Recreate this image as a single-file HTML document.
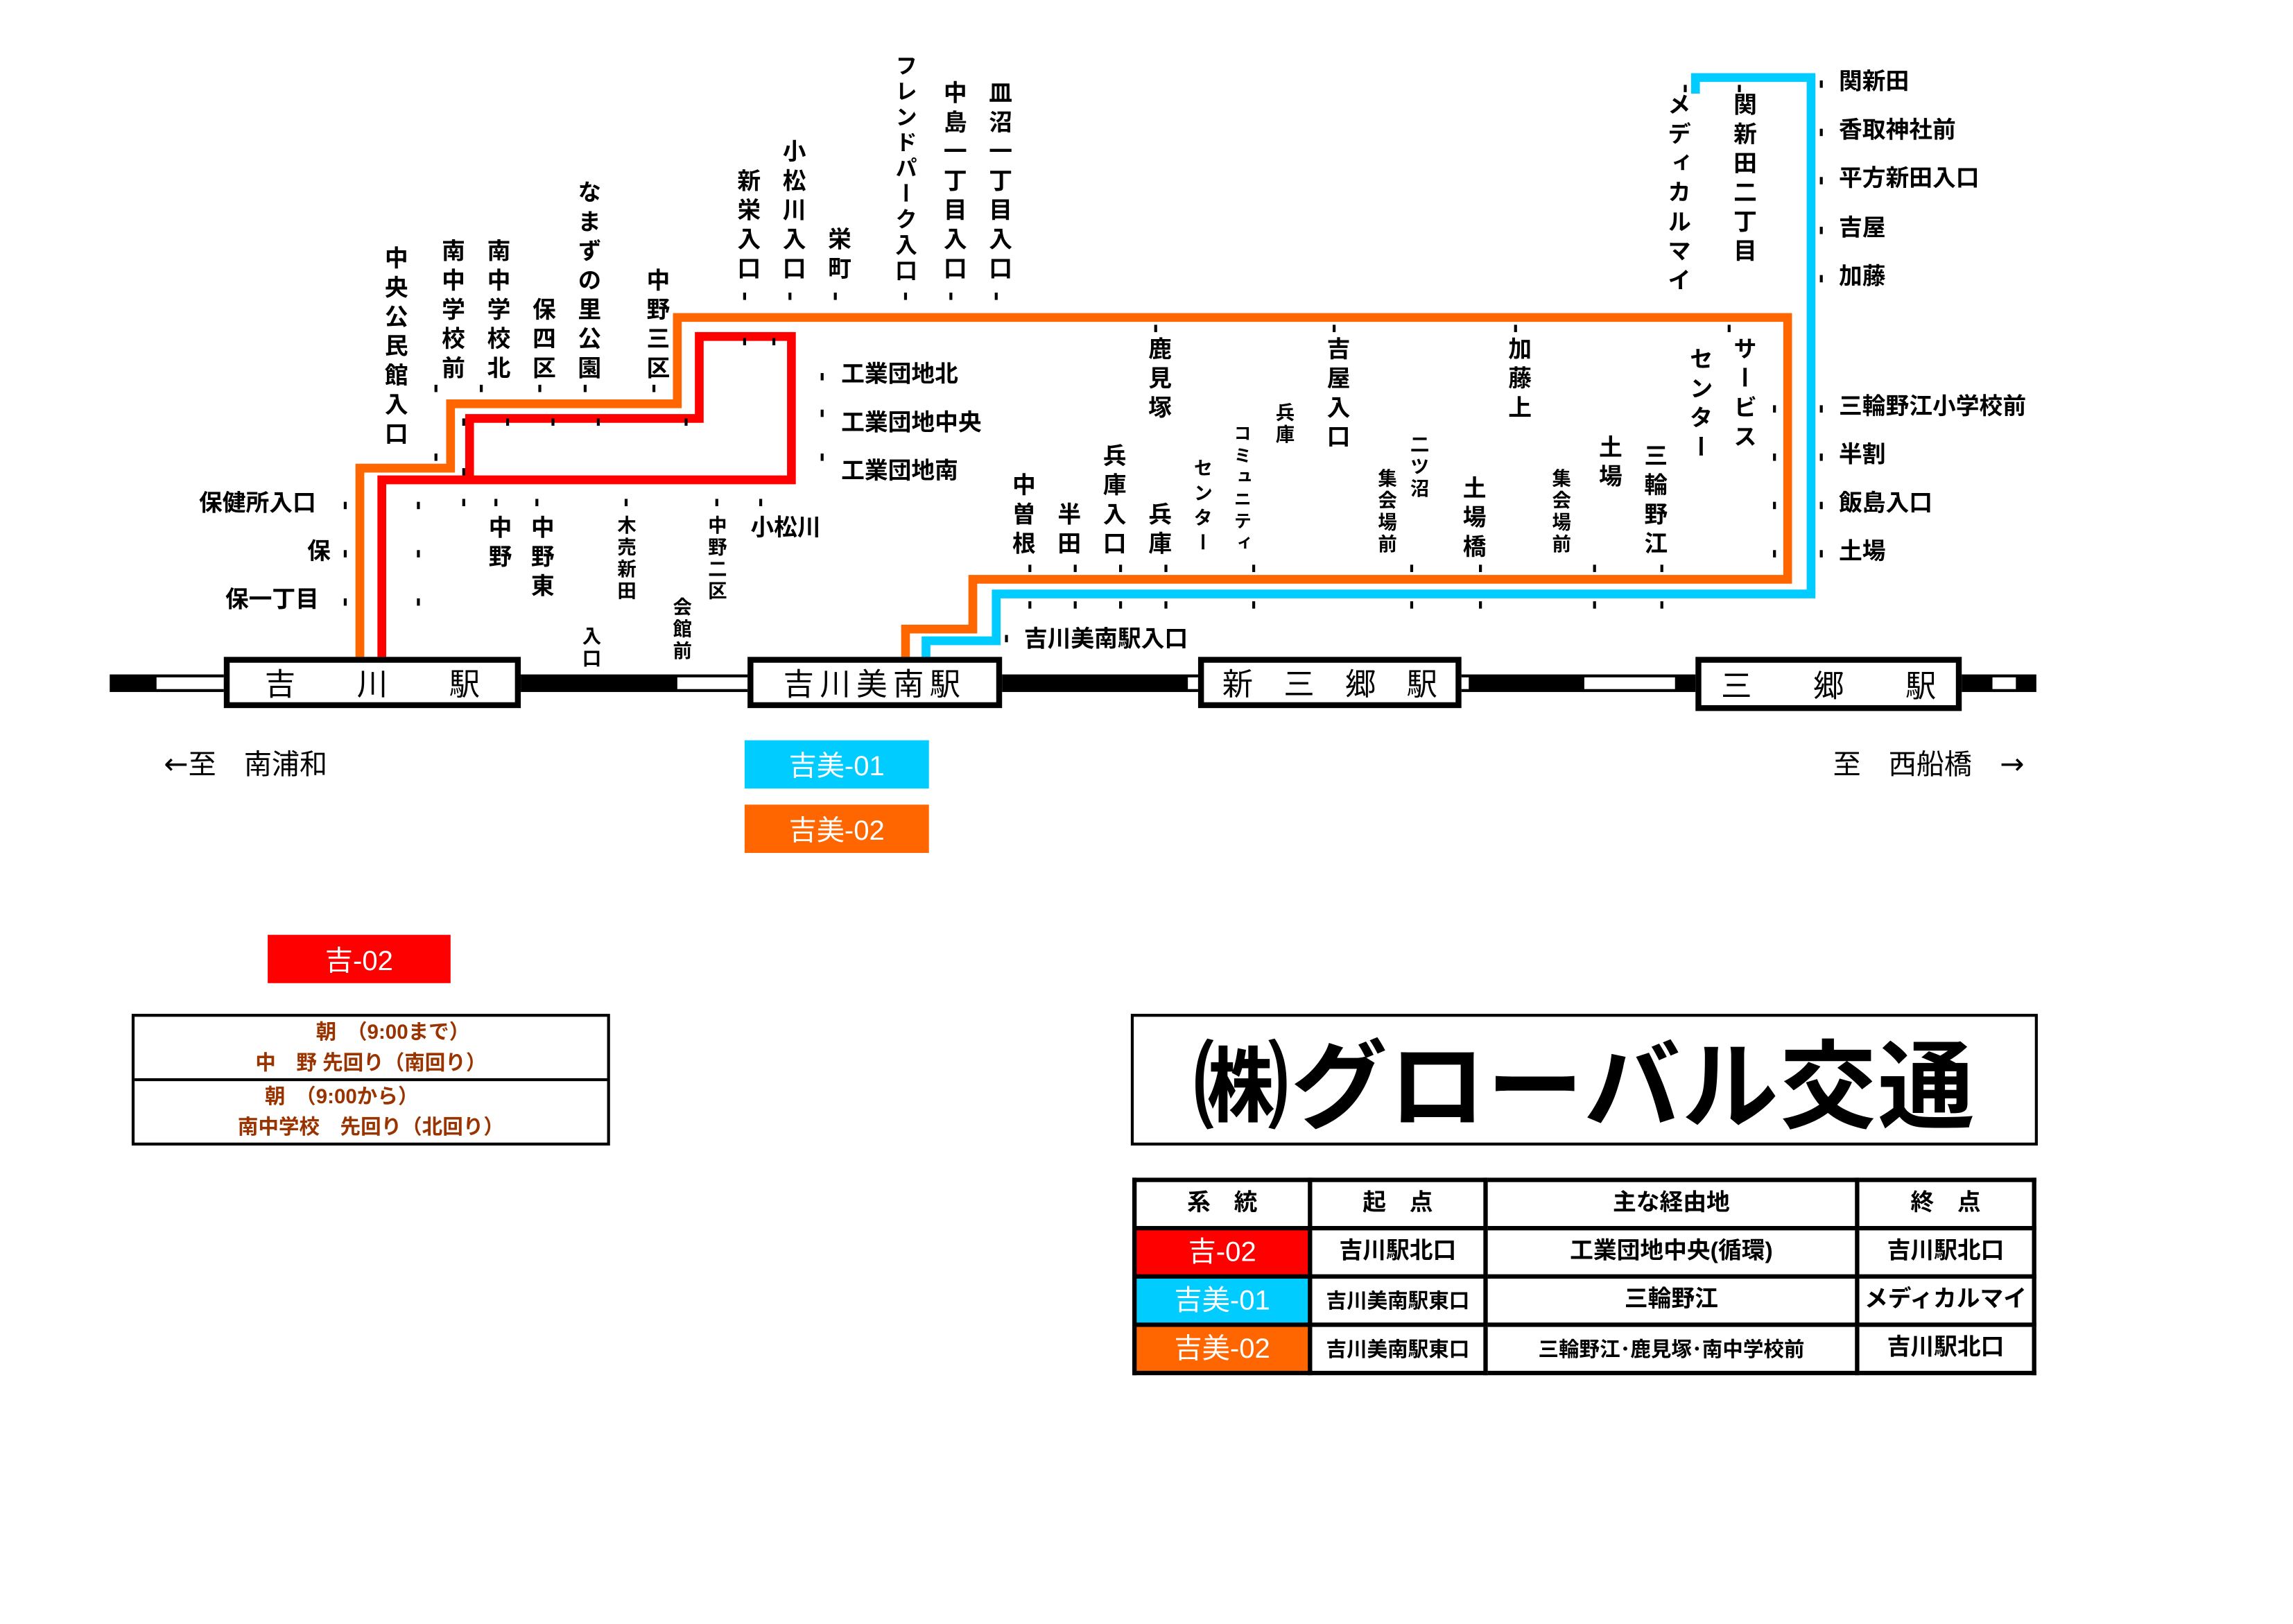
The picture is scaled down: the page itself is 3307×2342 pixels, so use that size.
<!DOCTYPE html>
<html><head><meta charset="utf-8">
<style>
html,body{margin:0;padding:0;background:#fff;}
body{width:3307px;height:2338px;overflow:hidden;position:relative;}
#s{position:absolute;left:0;top:0;width:1570px;height:1110px;transform:scale(2.1098);transform-origin:0 0;font-family:"Liberation Sans","Noto Sans CJK JP",sans-serif;font-weight:bold;color:#000;}
.a{position:absolute;white-space:nowrap;line-height:1;}
.v{position:absolute;writing-mode:vertical-rl;font-size:16px;letter-spacing:4px;line-height:1;white-space:nowrap;font-weight:bold;}
.sm{font-size:13px;letter-spacing:2px;}
.h{position:absolute;font-size:16px;line-height:1;white-space:nowrap;}
.st{position:absolute;border:4px solid #000;background:#fff;box-sizing:border-box;font-size:21px;font-weight:normal;display:flex;align-items:center;justify-content:center;}
.lg{position:absolute;color:#fff;font-size:19px;font-weight:normal;display:flex;align-items:center;justify-content:center;}
table{border-collapse:collapse;position:absolute;left:774px;top:805px;width:618px;height:132px;table-layout:fixed;}
td{border:3px solid #000;text-align:center;font-size:16px;padding:0;height:30px;line-height:1;}
.ar{font-family:"DejaVu Sans",sans-serif;font-size:20px;}
</style></head><body><div id="s">
<svg width="1570" height="1110" style="position:absolute;left:0;top:0">
 <rect x="75" y="461" width="1317" height="12" fill="#000"/>
 <rect x="107" y="463" width="46" height="8" fill="#fff"/>
 <rect x="463" y="463" width="48" height="8" fill="#fff"/>
 <rect x="1083" y="463" width="62" height="8" fill="#fff"/>
 <rect x="1362" y="463" width="16" height="8" fill="#fff"/>
 <rect x="998" y="463" width="6" height="8" fill="#fff"/>
 <rect x="812" y="463" width="7" height="8" fill="#fff"/>
 <path d="M246 452 V320 H308 V276 H463 V217 H1222 V396 H665 V430 H619 V452" fill="none" stroke="#ff6600" stroke-width="6"/>
 <path d="M261 452 V328 H541 V230 H478 V286 H321 V328" fill="none" stroke="#ff0000" stroke-width="6"/>
 <path d="M633 452 V438 H681 V406 H1238 V53 H1159 V64" fill="none" stroke="#00ccff" stroke-width="6"/>
 <g fill="#000">
 <rect x="508" y="200" width="2" height="5"/><rect x="539" y="200" width="2" height="5"/><rect x="570" y="200" width="2" height="5"/><rect x="618" y="200" width="2" height="5"/><rect x="649" y="200" width="2" height="5"/><rect x="680" y="200" width="2" height="5"/>
 <rect x="297" y="263" width="2" height="5"/><rect x="328" y="263" width="2" height="5"/><rect x="368" y="263" width="2" height="5"/><rect x="399" y="263" width="2" height="5"/><rect x="446" y="263" width="2" height="5"/>
 <rect x="316" y="286" width="2" height="5"/><rect x="346" y="286" width="2" height="5"/><rect x="377" y="286" width="2" height="5"/><rect x="408" y="286" width="2" height="5"/><rect x="468" y="286" width="2" height="5"/>
 <rect x="508" y="231" width="2" height="5"/><rect x="528" y="231" width="2" height="5"/>
 <rect x="297" y="310" width="2" height="5"/><rect x="316" y="320" width="2" height="5"/>
 <rect x="235" y="343" width="2" height="5"/><rect x="235" y="376" width="2" height="5"/><rect x="235" y="409" width="2" height="5"/>
 <rect x="285" y="343" width="2" height="5"/><rect x="285" y="376" width="2" height="5"/><rect x="285" y="409" width="2" height="5"/>
 <rect x="316" y="341" width="2" height="5"/><rect x="338" y="341" width="2" height="5"/><rect x="366" y="341" width="2" height="5"/><rect x="427" y="341" width="2" height="5"/><rect x="489" y="341" width="2" height="5"/><rect x="519" y="341" width="2" height="5"/>
 <rect x="561" y="255" width="2" height="5"/><rect x="561" y="280" width="2" height="5"/><rect x="561" y="310" width="2" height="5"/>
 <g id="d1"><rect x="703" y="386" width="2" height="5"/><rect x="734" y="386" width="2" height="5"/><rect x="765" y="386" width="2" height="5"/><rect x="796" y="386" width="2" height="5"/><rect x="856" y="386" width="2" height="5"/><rect x="964" y="386" width="2" height="5"/><rect x="1011" y="386" width="2" height="5"/><rect x="1089" y="386" width="2" height="5"/><rect x="1135" y="386" width="2" height="5"/></g>
 <use href="#d1" y="25"/>
 <rect x="789" y="222" width="2" height="5"/><rect x="911" y="222" width="2" height="5"/><rect x="1035" y="222" width="2" height="5"/><rect x="1181" y="222" width="2" height="5"/>
 <rect x="1212" y="277" width="2" height="5"/><rect x="1212" y="310" width="2" height="5"/><rect x="1212" y="343" width="2" height="5"/><rect x="1212" y="376" width="2" height="5"/>
 <rect x="1244" y="55" width="2" height="5"/><rect x="1244" y="88" width="2" height="5"/><rect x="1244" y="121" width="2" height="5"/><rect x="1244" y="155" width="2" height="5"/><rect x="1244" y="188" width="2" height="5"/>
 <rect x="1244" y="277" width="2" height="5"/><rect x="1244" y="310" width="2" height="5"/><rect x="1244" y="343" width="2" height="5"/><rect x="1244" y="376" width="2" height="5"/>
 <rect x="1151" y="58" width="2" height="5"/><rect x="1188" y="58" width="2" height="5"/>
 <rect x="687" y="434" width="2" height="5"/>
 </g>
</svg>

<div class="st" style="left:153px;top:449px;width:203px;height:35px">吉　　川　　駅</div>
<div class="st" style="left:511px;top:449px;width:174px;height:35px;letter-spacing:4px">吉川美南駅</div>
<div class="st" style="left:819px;top:449px;width:180px;height:35px">新　三　郷　駅</div>
<div class="st" style="left:1159px;top:449px;width:182px;height:37px">三　　郷　　駅</div>

<div class="v" style="left:260px;top:168px">中央公民館入口</div>
<div class="v" style="left:299px;top:163px">南中学校前</div>
<div class="v" style="left:330px;top:163px">南中学校北</div>
<div class="v" style="left:361px;top:203px">保四区</div>
<div class="v" style="left:392px;top:123px">なまずの里公園</div>
<div class="v" style="left:439px;top:183px">中野三区</div>
<div class="v" style="left:501px;top:115px">新栄入口</div>
<div class="v" style="left:532px;top:95px">小松川入口</div>
<div class="v" style="left:563px;top:155px">栄町</div>
<div class="v" style="left:611px;top:37px;font-size:15px;letter-spacing:2.5px">フレンドパーク入口</div>
<div class="v" style="left:642px;top:55px">中島一丁目入口</div>
<div class="v" style="left:673px;top:55px">皿沼一丁目入口</div>

<div class="v" style="left:331px;top:352px">中野</div>
<div class="v" style="left:360px;top:352px">中野東</div>
<div class="v sm" style="left:421px;top:352px">木売新田</div>
<div class="v sm" style="left:397px;top:428px">入口</div>
<div class="v sm" style="left:459px;top:408px">会館前</div>
<div class="v sm" style="left:483px;top:352px">中野二区</div>
<div class="h" style="left:513px;top:354px">小松川</div>
<div class="h" style="left:136px;top:337px">保健所入口</div>
<div class="h" style="left:210px;top:370px">保</div>
<div class="h" style="left:154px;top:403px">保一丁目</div>
<div class="h" style="left:575px;top:249px">工業団地北</div>
<div class="h" style="left:575px;top:282px">工業団地中央</div>
<div class="h" style="left:575px;top:315px">工業団地南</div>

<div class="v" style="left:689px;top:323px">中曽根</div>
<div class="v" style="left:720px;top:343px">半田</div>
<div class="v" style="left:751px;top:303px">兵庫入口</div>
<div class="v" style="left:782px;top:343px">兵庫</div>
<div class="v" style="left:782px;top:230px">鹿見塚</div>
<div class="v sm" style="left:815px;top:313px;letter-spacing:4px">センター</div>
<div class="v sm" style="left:843px;top:290px;font-size:12px;letter-spacing:3px">コミュニティ</div>
<div class="v sm" style="left:871px;top:275px">兵庫</div>
<div class="v" style="left:904px;top:230px">吉屋入口</div>
<div class="v sm" style="left:941px;top:320px">集会場前</div>
<div class="v sm" style="left:963px;top:297px">二ツ沼</div>
<div class="v" style="left:997px;top:325px">土場橋</div>
<div class="v" style="left:1028px;top:230px">加藤上</div>
<div class="v sm" style="left:1060px;top:320px">集会場前</div>
<div class="v" style="left:1090px;top:297px">土場</div>
<div class="v" style="left:1121px;top:303px">三輪野江</div>
<div class="v" style="left:1152px;top:237px">センター</div>
<div class="v" style="left:1182px;top:230px">サービス</div>
<div class="v" style="left:1137px;top:63px">メディカルマイ</div>
<div class="v" style="left:1182px;top:63px">関新田二丁目</div>

<div class="h" style="left:1257px;top:49px">関新田</div>
<div class="h" style="left:1257px;top:82px">香取神社前</div>
<div class="h" style="left:1257px;top:115px">平方新田入口</div>
<div class="h" style="left:1257px;top:149px">吉屋</div>
<div class="h" style="left:1257px;top:182px">加藤</div>
<div class="h" style="left:1257px;top:271px">三輪野江小学校前</div>
<div class="h" style="left:1257px;top:304px">半割</div>
<div class="h" style="left:1257px;top:337px">飯島入口</div>
<div class="h" style="left:1257px;top:370px">土場</div>
<div class="h" style="left:700px;top:430px">吉川美南駅入口</div>

<div class="a" style="left:112px;top:512px;font-size:19px;font-weight:normal"><span class="ar">←</span>至　南浦和</div>
<div class="a" style="left:1253px;top:512px;font-size:19px;font-weight:normal">至　西船橋　<span class="ar">→</span></div>

<div class="lg" style="left:509px;top:506px;width:126px;height:33px;background:#00ccff">吉美-01</div>
<div class="lg" style="left:509px;top:550px;width:126px;height:33px;background:#ff6600">吉美-02</div>
<div class="lg" style="left:183px;top:639px;width:125px;height:33px;background:#ff0000">吉-02</div>

<div style="position:absolute;left:90px;top:693px;width:327px;height:90px;border:2px solid #000;box-sizing:border-box;color:#993300;font-size:14px;">
 <div style="height:44px;border-bottom:2px solid #000;box-sizing:border-box;text-align:center;line-height:21px;"><div style="padding-left:30px">朝　（9:00まで）</div><div>中　野 先回り（南回り）</div></div>
 <div style="text-align:center;line-height:21px;"><div style="padding-right:40px">朝　（9:00から）</div><div>南中学校　先回り（北回り）</div></div>
</div>

<div style="position:absolute;left:773px;top:693px;width:620px;height:90px;border:2px solid #000;box-sizing:border-box;display:flex;align-items:center;justify-content:center;font-size:66px;font-weight:bold;letter-spacing:1px">㈱グローバル交通</div>

<table>
<tr><td style="width:117px">系　統</td><td style="width:117px">起　点</td><td>主な経由地</td><td style="width:118px">終　点</td></tr>
<tr><td style="background:#ff0000;color:#fff;font-weight:normal;font-size:19px">吉-02</td><td>吉川駅北口</td><td>工業団地中央(循環)</td><td>吉川駅北口</td></tr>
<tr><td style="background:#00ccff;color:#fff;font-weight:normal;font-size:19px">吉美-01</td><td style="font-size:14px">吉川美南駅東口</td><td>三輪野江</td><td>メディカルマイ</td></tr>
<tr><td style="background:#ff6600;color:#fff;font-weight:normal;font-size:19px">吉美-02</td><td style="font-size:14px">吉川美南駅東口</td><td style="font-size:14px">三輪野江･鹿見塚･南中学校前</td><td>吉川駅北口</td></tr>
</table>
</div></body></html>
